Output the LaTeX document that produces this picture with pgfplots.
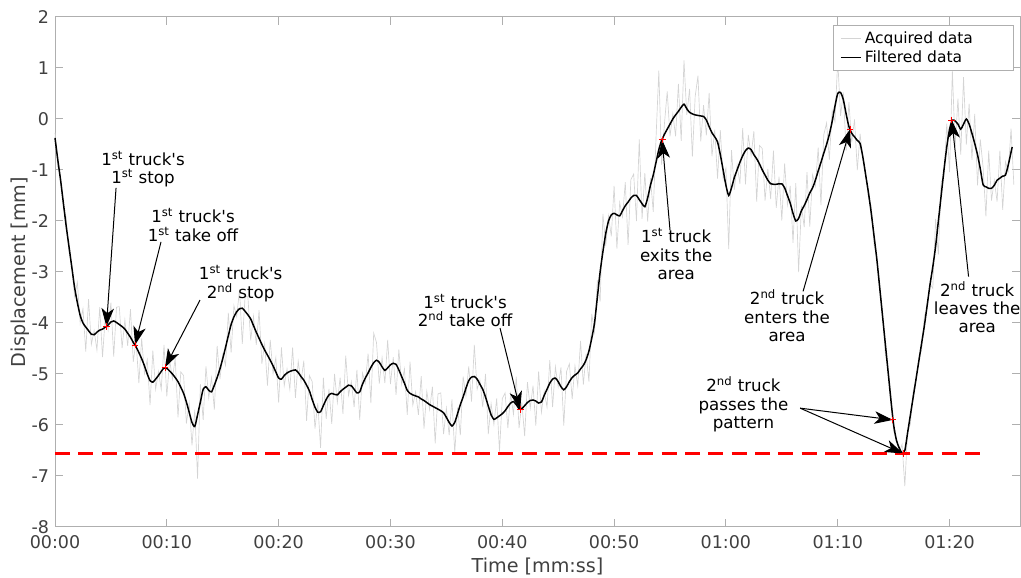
\documentclass[border=0pt]{standalone}
\usepackage{fontspec}
\setmainfont{DejaVu Sans}
\usepackage{pgfplots}
\pgfplotsset{compat=1.18}
\usepackage{pgfplotstable}
\usetikzlibrary{arrows.meta}
\definecolor{axgray}{RGB}{175,175,175}
\definecolor{txtgray}{RGB}{64,64,64}
\definecolor{acq}{RGB}{212,212,212}
\newcommand{\annfont}{\fontsize{10}{11}\selectfont}
\newcommand{\sq}{\textquotesingle}

\pgfplotstableread{
t y
0 -0.37
0.25 -0.8
0.5 -1.2
0.75 -1.65
1 -2.1
1.25 -2.5
1.5 -2.9
1.75 -3.3
2 -3.6
2.25 -3.85
2.5 -4.0
2.75 -4.08
3 -4.15
3.25 -4.22
3.5 -4.23
3.75 -4.18
4 -4.14
4.25 -4.12
4.5 -4.08
4.75 -4.04
5 -3.98
5.25 -3.96
5.5 -3.99
5.75 -4.03
6 -4.07
6.25 -4.12
6.5 -4.2
6.75 -4.28
7 -4.38
7.25 -4.47
7.5 -4.58
7.75 -4.7
8 -4.84
8.25 -5.0
8.5 -5.13
8.75 -5.16
9 -5.1
9.25 -5.03
9.5 -4.95
9.75 -4.88
10 -4.89
10.25 -4.94
10.5 -5.0
10.75 -5.07
11 -5.15
11.25 -5.26
11.5 -5.38
11.75 -5.55
12 -5.75
12.25 -5.95
12.5 -6.03
12.75 -5.8
13 -5.55
13.25 -5.3
13.5 -5.25
13.75 -5.32
14 -5.35
14.25 -5.22
14.5 -5.07
14.75 -4.9
15 -4.7
15.25 -4.48
15.5 -4.25
15.75 -4.03
16 -3.88
16.25 -3.78
16.5 -3.72
16.75 -3.71
17 -3.77
17.25 -3.84
17.5 -3.92
17.75 -4.05
18 -4.18
18.25 -4.3
18.5 -4.42
18.75 -4.53
19 -4.63
19.25 -4.73
19.5 -4.84
19.75 -4.96
20 -5.08
20.25 -5.1
20.5 -5.03
20.75 -4.98
21 -4.95
21.25 -4.93
21.5 -4.92
21.75 -4.97
22 -5.05
22.25 -5.12
22.5 -5.22
22.75 -5.33
23 -5.5
23.25 -5.65
23.5 -5.75
23.75 -5.74
24 -5.62
24.25 -5.5
24.5 -5.41
24.75 -5.38
25 -5.4
25.25 -5.41
25.5 -5.35
25.75 -5.3
26 -5.26
26.25 -5.22
26.5 -5.23
26.75 -5.3
27 -5.37
27.25 -5.35
27.5 -5.2
27.75 -5.08
28 -4.98
28.25 -4.87
28.5 -4.78
28.75 -4.73
29 -4.77
29.25 -4.86
29.5 -4.93
29.75 -4.88
30 -4.82
30.25 -4.79
30.5 -4.81
30.75 -4.92
31 -5.05
31.25 -5.18
31.5 -5.32
31.75 -5.38
32 -5.41
32.25 -5.43
32.5 -5.45
32.75 -5.49
33 -5.52
33.25 -5.56
33.5 -5.6
33.75 -5.63
34 -5.66
34.25 -5.69
34.5 -5.72
34.75 -5.76
35 -5.85
35.25 -5.95
35.5 -6.02
35.75 -5.95
36 -5.78
36.25 -5.6
36.5 -5.45
36.75 -5.28
37 -5.13
37.25 -5.06
37.5 -5.05
37.75 -5.1
38 -5.2
38.25 -5.3
38.5 -5.45
38.75 -5.63
39 -5.8
39.25 -5.89
39.5 -5.86
39.75 -5.82
40 -5.78
40.25 -5.72
40.5 -5.64
40.75 -5.57
41 -5.54
41.25 -5.6
41.5 -5.68
41.75 -5.68
42 -5.62
42.25 -5.56
42.5 -5.52
42.75 -5.51
43 -5.53
43.25 -5.57
43.5 -5.55
43.75 -5.42
44 -5.3
44.25 -5.18
44.5 -5.1
44.75 -5.08
45 -5.15
45.25 -5.25
45.5 -5.31
45.75 -5.25
46 -5.15
46.25 -5.07
46.5 -5.02
46.75 -4.98
47 -4.9
47.25 -4.83
47.5 -4.72
47.75 -4.55
48 -4.3
48.25 -4.0
48.5 -3.5
48.75 -3.0
49 -2.6
49.25 -2.25
49.5 -2.0
49.75 -1.88
50 -1.85
50.25 -1.88
50.5 -1.9
50.75 -1.8
51 -1.7
51.25 -1.63
51.5 -1.55
51.75 -1.5
52 -1.5
52.25 -1.58
52.5 -1.66
52.75 -1.72
53 -1.55
53.25 -1.3
53.5 -1.1
53.75 -0.85
54 -0.6
54.25 -0.42
54.5 -0.3
54.75 -0.2
55 -0.1
55.25 0.0
55.5 0.08
55.75 0.15
56 0.23
56.25 0.29
56.5 0.2
56.75 0.13
57 0.1
57.25 0.08
57.5 0.07
57.75 0.06
58 0.05
58.25 -0.02
58.5 -0.15
58.75 -0.27
59 -0.35
59.25 -0.45
59.5 -0.7
59.75 -1.0
60 -1.3
60.25 -1.5
60.5 -1.35
60.75 -1.15
61 -1.0
61.25 -0.85
61.5 -0.72
61.75 -0.62
62 -0.57
62.25 -0.6
62.5 -0.7
62.75 -0.78
63 -0.88
63.25 -1.0
63.5 -1.1
63.75 -1.2
64 -1.27
64.25 -1.28
64.5 -1.28
64.75 -1.27
65 -1.27
65.25 -1.35
65.5 -1.5
65.75 -1.65
66 -1.85
66.25 -2.0
66.5 -1.95
66.75 -1.8
67 -1.7
67.25 -1.58
67.5 -1.45
67.75 -1.35
68 -1.2
68.25 -1.02
68.5 -0.85
68.75 -0.67
69 -0.5
69.25 -0.3
69.5 -0.05
69.75 0.25
70 0.5
70.25 0.52
70.5 0.38
70.75 0.1
71 -0.15
71.25 -0.28
71.5 -0.35
71.75 -0.42
72 -0.48
72.25 -0.75
72.5 -1.1
72.75 -1.45
73 -1.85
73.25 -2.3
73.5 -2.76
73.75 -3.3
74 -3.85
74.25 -4.4
74.5 -4.95
74.75 -5.5
75 -6.0
75.25 -6.3
75.5 -6.45
75.75 -6.55
76 -6.5
76.25 -6.15
76.5 -5.8
76.75 -5.45
77 -5.1
77.25 -4.75
77.5 -4.4
77.75 -4.05
78 -3.65
78.25 -3.25
78.5 -2.9
78.75 -2.5
79 -2.0
79.25 -1.5
79.5 -1.0
79.75 -0.55
80 -0.2
80.25 -0.02
80.5 -0.04
80.75 -0.1
81 -0.2
81.25 -0.1
81.5 0.0
81.75 -0.1
82 -0.28
82.25 -0.48
82.5 -0.7
82.75 -0.98
83 -1.29
83.25 -1.33
83.5 -1.36
83.75 -1.36
84 -1.3
84.25 -1.2
84.5 -1.16
84.75 -1.12
85 -1.1
85.25 -0.9
85.5 -0.65
85.6 -0.55
}\filtered

\pgfplotstableread{
t y
0 -0.27
0.25 -0.93
0.5 -1.15
0.75 -1.73
1 -1.93
1.25 -2.61
1.5 -2.86
1.75 -3.48
2 -3.2
2.25 -4.0
2.5 -3.72
2.75 -4.56
3 -3.53
3.25 -4.42
3.5 -4.15
3.75 -4.53
4 -3.69
4.25 -4.67
4.5 -3.86
4.75 -4.14
5 -3.6
5.25 -4.66
5.5 -3.69
5.75 -3.68
6 -4.49
6.25 -3.94
6.5 -4.45
6.75 -3.73
7 -4.76
7.25 -4.35
7.5 -5.18
7.75 -4.3
8 -4.99
8.25 -4.72
8.5 -5.61
8.75 -4.54
9 -5.3
9.25 -4.95
9.5 -5.3
9.75 -4.43
10 -5.44
10.25 -4.72
10.5 -5.1
10.75 -4.69
11 -5.85
11.25 -4.96
11.5 -5.03
11.75 -5.97
12 -5.57
12.25 -6.4
12.5 -5.7
12.75 -7.05
13 -5.2
13.25 -5.9
13.5 -4.85
13.75 -5.47
14 -5.07
14.25 -5.7
14.5 -4.45
14.75 -5.1
15 -4.62
15.25 -4.83
15.5 -3.8
15.75 -4.58
16 -3.66
16.25 -3.88
16.5 -3.34
16.75 -4.41
17 -3.47
17.25 -3.49
17.5 -4.34
17.75 -3.87
18 -4.43
18.25 -3.75
18.5 -4.8
18.75 -4.41
19 -5.23
19.25 -4.33
19.5 -4.99
19.75 -4.68
20 -5.56
20.25 -4.48
20.5 -5.23
20.75 -4.9
21 -5.3
21.25 -4.48
21.5 -5.47
21.75 -4.75
22 -5.15
22.25 -4.74
22.5 -5.92
22.75 -5.03
23 -5.15
23.25 -6.07
23.5 -5.57
23.75 -6.45
24 -5.07
24.25 -5.88
24.5 -5.29
24.75 -5.98
25 -5.0
25.25 -5.56
25.5 -5.07
25.75 -5.78
26 -4.64
26.25 -5.42
26.5 -5.15
26.75 -5.65
27 -4.92
27.25 -5.9
27.5 -4.98
27.75 -5.18
28 -4.6
28.25 -5.57
28.5 -4.2
28.75 -4.38
29 -5.19
29.25 -4.68
29.5 -5.18
29.75 -4.33
30 -5.2
30.25 -4.67
30.5 -5.41
30.75 -4.52
31 -5.2
31.25 -4.9
31.5 -5.8
31.75 -4.76
32 -5.61
32.25 -5.35
32.5 -5.8
32.75 -5.04
33 -6.07
33.25 -5.34
33.5 -5.7
33.75 -5.25
34 -6.36
34.25 -5.39
34.5 -5.37
34.75 -6.18
35 -5.67
35.25 -6.2
35.5 -5.5
35.75 -6.55
36 -5.66
36.25 -6.2
36.5 -5.05
36.75 -5.43
37 -4.85
37.25 -5.54
37.5 -4.43
37.75 -5.3
38 -5.12
38.25 -5.65
38.5 -5.0
38.75 -6.18
39 -5.58
39.25 -5.99
39.5 -5.48
39.75 -6.52
40 -5.48
40.25 -5.37
40.5 -6.06
40.75 -5.39
41 -5.79
41.25 -5.05
41.5 -6.06
41.75 -5.56
42 -6.22
42.25 -5.16
42.5 -5.67
42.75 -5.23
43 -6.01
43.25 -4.95
43.5 -5.75
43.75 -5.34
44 -5.65
44.25 -4.73
44.5 -5.65
44.75 -4.86
45 -5.25
45.25 -4.87
45.5 -6.01
45.75 -4.95
46 -4.8
46.25 -5.49
46.5 -4.84
46.75 -5.23
47 -4.35
47.25 -5.21
47.5 -4.6
47.75 -5.15
48 -3.82
48.25 -4.18
48.5 -3.16
48.75 -3.58
49 -1.86
49.25 -2.49
49.5 -1.9
49.75 -2.3
50 -1.31
50.25 -2.54
50.5 -1.64
50.75 -1.92
51 -1.24
51.25 -2.47
51.5 -1.19
51.75 -1.08
52 -2.0
52.25 -0.4
52.5 -1.96
52.75 -1.06
53 -2.01
53.25 -1.16
53.5 -1.82
53.75 -0.37
54 0.95
54.25 -0.9
54.5 -0.1
54.75 0.54
55 -0.34
55.25 0.1
55.5 -0.34
55.75 0.69
56 -0.43
56.25 1.15
56.5 0.08
56.75 0.59
57 -0.74
57.25 0.44
57.5 0.85
57.75 -0.44
58 0.27
58.25 -0.32
58.5 0.51
58.75 -0.73
59 -0.21
59.25 -1.17
59.5 -0.22
59.75 -1.18
60 -0.96
60.25 -2.55
60.5 -0.61
60.75 -1.39
61 -0.9
61.25 -1.27
61.5 -0.18
61.75 -1.28
62 -0.31
62.25 -0.72
62.5 -0.24
62.75 -1.62
63 -0.52
63.25 -0.58
63.5 -1.6
63.75 -0.98
64 -1.57
64.25 -0.62
64.5 -1.74
64.75 -1.13
65 -1.99
65.25 -0.87
65.5 -1.68
65.75 -1.31
66 -2.43
66.25 -1.26
66.5 -3.0
66.75 -1.7
67 -2.12
67.25 -1.04
67.5 -2.11
67.75 -1.09
68 -1.32
68.25 -0.56
68.5 -1.69
68.75 -0.31
69 -0.08
69.25 -0.8
69.5 0.17
69.75 -0.05
70 1.16
70.25 0.06
70.5 0.52
70.75 -0.62
71 0.33
71.25 -0.46
71.5 -0.01
71.75 -1.0
72 -0.29
72.25 -0.81
72.5 -1.08
72.75 -1.55
73 -1.71
73.25 -2.47
73.5 -2.69
73.75 -3.33
74 -3.74
74.25 -4.61
74.5 -4.86
74.75 -5.4
75 -6.13
75.25 -6.25
75.5 -6.53
75.75 -6.38
76 -7.2
76.25 -6.11
76.5 -5.98
76.75 -5.33
77 -5.15
77.25 -4.67
77.5 -4.54
77.75 -3.86
78 -3.71
78.25 -3.23
78.5 -3.32
78.75 -1.96
79 -2.66
79.25 -1.24
79.5 -1.12
79.75 -0.09
80 -1.04
80.25 0.95
80.5 -0.55
80.75 0.4
81 -0.7
81.25 0.82
81.5 -0.5
81.75 0.3
82 -0.8
82.25 0.1
82.5 -1.3
82.75 -0.4
83 -0.95
83.25 -1.91
83.5 -0.62
83.75 -1.6
84 -1.2
84.25 -1.62
84.5 -0.62
84.75 -1.78
85 -0.84
85.25 -1.02
85.5 -0.19
85.75 -1.29
}\acquired

\begin{document}
\begin{tikzpicture}[>={Stealth[length=11pt,width=7.5pt,inset=3pt]}]
\begin{axis}[
  scale only axis, width=579pt, height=306pt,
  xmin=0, xmax=86.3, ymin=-8, ymax=2,
  clip=false,
  xtick={0,10,20,30,40,50,60,70,80},
  xticklabels={00:00,00:10,00:20,00:30,00:40,00:50,01:00,01:10,01:20},
  ytick={-8,-7,-6,-5,-4,-3,-2,-1,0,1,2},
  yticklabels={-8,-7,-6,-5,-4,-3,-2,-1,0,1,2},
  tick align=inside, major tick length=5pt,
  axis line style={axgray, line width=0.6pt},
  tick style={axgray, line width=0.6pt},
  ticklabel style={font=\fontsize{10.5}{12}\selectfont, text=txtgray},
  xticklabel style={yshift=-1.5pt},
  xlabel={Time [mm:ss]}, ylabel={Displacement [mm]},
  label style={font=\fontsize{11.5}{13}\selectfont, text=txtgray},
  xlabel style={at={(axis description cs:0.5,-0.078)}, anchor=center},
  ylabel style={at={(axis description cs:-0.036,0.5)}, anchor=center},
  legend style={at={(0.993,0.984)}, anchor=north east, draw=axgray,
    font=\fontsize{9.3}{10.5}\selectfont, text=black, inner xsep=4pt, inner ysep=1.5pt, row sep=-1pt},
  legend cell align=left,
  legend image code/.code={\draw[#1] (0cm,0cm) -- (0.42cm,0cm);},
]
\addplot[acq, line width=0.4pt] table {\acquired};
\addlegendentry{Acquired data\rule{18pt}{0pt}}
\addplot[black, line width=0.9pt, smooth, tension=0.4] table {\filtered};
\addlegendentry{Filtered data\rule{18pt}{0pt}}
\addplot[red, line width=1.3pt, dash pattern=on 9pt off 5pt, forget plot] coordinates {(0,-6.56) (82.9,-6.56)};
\addplot[red, only marks, mark=+, mark size=2pt, line width=0.5pt, forget plot] coordinates {
(4.6,-4.07) (7.16,-4.43) (9.84,-4.87) (41.6,-5.7) (54.3,-0.41) (71.1,-0.2) (74.93,-5.9) (75.85,-6.56) (80.2,-0.02)};

\coordinate (SW) at (rel axis cs:0,0);
\coordinate (NE) at (rel axis cs:1,1);

\begin{scope}[line width=0.6pt, black]
\node[align=center, font=\annfont] at (axis cs:7.87,-0.98) {1\textsuperscript{st} truck\sq s\\1\textsuperscript{st} stop};
\draw[->] (axis cs:5.46,-1.35) -- (axis cs:4.6,-4.07);
\node[align=center, font=\annfont] at (axis cs:12.34,-2.08) {1\textsuperscript{st} truck\sq s\\1\textsuperscript{st} take off};
\draw[->] (axis cs:9.48,-2.41) -- (axis cs:7.16,-4.43);
\node[align=center, font=\annfont] at (axis cs:16.6,-3.23) {1\textsuperscript{st} truck\sq s\\2\textsuperscript{nd} stop};
\draw[->] (axis cs:12.97,-3.55) -- (axis cs:9.84,-4.87);
\node[align=center, font=\annfont] at (axis cs:36.67,-3.75) {1\textsuperscript{st} truck\sq s\\2\textsuperscript{nd} take off};
\draw[->] (axis cs:39.8,-4.1) -- (axis cs:41.6,-5.7);
\node[align=center, font=\annfont] at (axis cs:55.55,-2.65) {1\textsuperscript{st} truck\\exits the\\area};
\draw[->] (axis cs:55.0,-2.18) -- (axis cs:54.3,-0.41);
\node[align=center, font=\annfont] at (axis cs:65.47,-3.86) {2\textsuperscript{nd} truck\\enters the\\area};
\draw[->] (axis cs:66.9,-3.38) -- (axis cs:71.1,-0.2);
\node[align=center, font=\annfont] at (axis cs:82.47,-3.69) {2\textsuperscript{nd} truck\\leaves the\\area};
\draw[->] (axis cs:81.7,-3.09) -- (axis cs:80.2,-0.02);
\node[align=center, font=\annfont] at (axis cs:61.57,-5.6) {2\textsuperscript{nd} truck\\passes the\\pattern};
\draw[->] (axis cs:66.64,-5.67) -- (axis cs:74.93,-5.9);
\draw[->] (axis cs:66.64,-5.67) -- (axis cs:75.85,-6.56);
\end{scope}
\end{axis}
\pgfresetboundingbox
\path[use as bounding box] ([xshift=-33pt,yshift=-30.6pt]SW) rectangle ([xshift=0.6pt,yshift=10.2pt]NE);
\end{tikzpicture}
\end{document}
